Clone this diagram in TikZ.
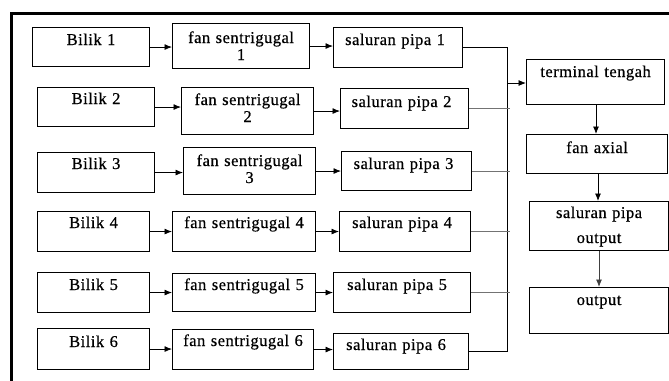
\documentclass[tikz,border=0pt]{standalone}
\usepackage{fontspec}
\setmainfont{Liberation Serif}[LetterSpace=3,FakeBold=0.6,WordSpace=0.8]
\usetikzlibrary{arrows.meta}

\tikzset{
  box/.style={draw, line width=1.1pt, anchor=north west, inner sep=0pt},
  lbl/.style={anchor=base, inner sep=0pt, text width=130pt, align=center,
              font=\fontsize{16.5}{17}\selectfont},
  arr/.style={line width=0.8pt, -{Latex[length=7.5pt,width=6pt]}},
  wire/.style={line width=0.8pt},
  graywire/.style={line width=0.9pt, draw=black!55},
}

\begin{document}
\begin{tikzpicture}[x=1pt, y=-1pt]
\useasboundingbox (0,0) rectangle (669,380);

% frame (top and left edges only)
\draw[line width=2.6pt] (11.5,381) -- (11.5,13.5) -- (670,13.5);

% column 1: rooms
\node[box, minimum width=117pt, minimum height=39pt] (b1) at (32,27)  {};
\node[box, minimum width=117pt, minimum height=39pt] (b2) at (37,87)  {};
\node[box, minimum width=117pt, minimum height=40pt] (b3) at (37,152) {};
\node[box, minimum width=112pt, minimum height=40pt] (b4) at (37,211) {};
\node[box, minimum width=112pt, minimum height=40pt] (b5) at (37,272) {};
\node[box, minimum width=112pt, minimum height=41pt] (b6) at (37,328) {};

% column 2: centrifugal fans
\node[box, minimum width=137pt, minimum height=45pt] (f1) at (172,23)  {};
\node[box, minimum width=132pt, minimum height=47pt] (f2) at (181,87)  {};
\node[box, minimum width=132pt, minimum height=47pt] (f3) at (183,147) {};
\node[box, minimum width=143pt, minimum height=40pt] (f4) at (172,211) {};
\node[box, minimum width=143pt, minimum height=38pt] (f5) at (172,273) {};
\node[box, minimum width=141pt, minimum height=40pt] (f6) at (172,329) {};

% column 3: ducts
\node[box, minimum width=129pt, minimum height=40pt] (s1) at (333,27)  {};
\node[box, minimum width=128pt, minimum height=40pt] (s2) at (340,88)  {};
\node[box, minimum width=130pt, minimum height=39pt] (s3) at (341,151) {};
\node[box, minimum width=131pt, minimum height=40pt] (s4) at (339,211) {};
\node[box, minimum width=137pt, minimum height=40pt] (s5) at (333,272) {};
\node[box, minimum width=135pt, minimum height=36pt] (s6) at (333,333) {};

% right column
\node[box, minimum width=138pt, minimum height=45pt] (t)  at (526,59)  {};
\node[box, minimum width=141pt, minimum height=39pt] (ax) at (526,134) {};
\node[box, minimum width=139pt, minimum height=49pt] (so) at (529,201) {};
\node[box, minimum width=139pt, minimum height=46pt] (o)  at (529,287) {};

% labels
\node[lbl] (b1t) at ([yshift=-18pt]b1.north) {Bilik 1};
\node[lbl] (b2t) at ([yshift=-17pt]b2.north) {Bilik 2};
\node[lbl] (b3t) at ([yshift=-17pt]b3.north) {Bilik 3};
\node[lbl] (b4t) at ([yshift=-17pt]b4.north) {Bilik 4};
\node[lbl] (b5t) at ([yshift=-18pt]b5.north) {Bilik 5};
\node[lbl] (b6t) at ([yshift=-19pt]b6.north) {Bilik 6};

\node[lbl] (f1t) at ([yshift=-20pt]f1.north) {fan sentrigugal\\1};
\node[lbl] (f2t) at ([yshift=-18pt]f2.north) {fan sentrigugal\\2};
\node[lbl] (f3t) at ([yshift=-19pt]f3.north) {fan sentrigugal\\3};
\node[lbl] (f4t) at ([yshift=-17pt]f4.north) {fan sentrigugal 4};
\node[lbl] (f5t) at ([yshift=-17pt]f5.north) {fan sentrigugal 5};
\node[lbl] (f6t) at ([yshift=-17pt]f6.north) {fan sentrigugal 6};

\node[lbl] (s1t) at ([xshift=-3pt,yshift=-18pt]s1.north) {saluran pipa 1};
\node[lbl] (s2t) at ([xshift=-3pt,yshift=-19pt]s2.north) {saluran pipa 2};
\node[lbl] (s3t) at ([xshift=-3pt,yshift=-18pt]s3.north) {saluran pipa 3};
\node[lbl] (s4t) at ([xshift=-3pt,yshift=-17pt]s4.north) {saluran pipa 4};
\node[lbl] (s5t) at ([xshift=-5pt,yshift=-18pt]s5.north) {saluran pipa 5};
\node[lbl] (s6t) at ([xshift=-5pt,yshift=-17pt]s6.north) {saluran pipa 6};

\node[lbl] (tt)  at ([yshift=-18pt]t.north)  {terminal tengah};
\node[lbl] (axt) at ([yshift=-19pt]ax.north) {fan axial};
\node[lbl] (sot) at ([yshift=-17pt]so.north) {saluran pipa\\[8pt]output};
\node[lbl] (ot)  at ([yshift=-18pt]o.north)  {output};

% room -> fan
\foreach \i in {1,...,6}
  \draw[arr] (b\i.east) -- (f\i.west |- b\i.east);
% fan -> duct
\foreach \i in {1,...,6}
  \draw[arr] (f\i.east) -- (s\i.west |- f\i.east);

% collecting bus
\coordinate (bx) at (507,0);
\draw[wire] (s1.east) -- (s1.east -| bx) -- (s6.east -| bx) -- (s6.east);
\foreach \i in {2,...,5}
  \draw[graywire] (s\i.east) -- ([xshift=3pt]s\i.east -| bx);
\coordinate (jn) at (507,83);
\draw[arr] (jn) -- (t.west |- jn);

% right column flow
\draw[arr] (t.south -| 596,0) -- (ax.north -| 596,0);
\draw[arr] (ax.south -| 598,0) -- (so.north -| 598,0);
\draw[arr, draw=black!75] (so.south -| 599,0) -- (o.north -| 599,0);
\end{tikzpicture}
\end{document}
